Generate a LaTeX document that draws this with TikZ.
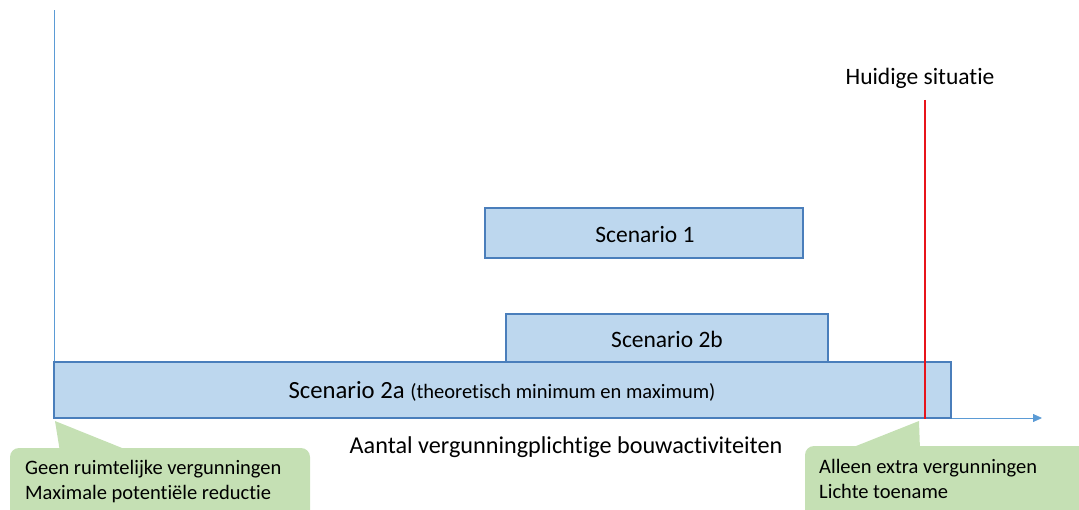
\documentclass[tikz,border=0pt]{standalone}
\usepackage{fontspec}
\setmainfont{Carlito}[Ligatures=NoCommon]
\usetikzlibrary{arrows.meta}
\definecolor{boxfill}{HTML}{BDD7EE}
\definecolor{boxline}{HTML}{4A7EBB}
\definecolor{axisc}{HTML}{5B9BD5}
\definecolor{callg}{HTML}{C5E0B4}
\definecolor{redl}{HTML}{E8141B}
\tikzset{
  scen/.style={draw=boxline, line width=1.3pt, fill=boxfill, inner sep=0pt},
  lbl/.style={font=\fontsize{23.5}{27}\selectfont, inner sep=0pt},
  calltext/.style={font=\fontsize{20.5}{25}\selectfont, align=left, anchor=north west, inner sep=0pt},
  callbox/.style={fill=callg, draw=none, rounded corners=9pt},
}
\begin{document}
\begin{tikzpicture}[x=1pt,y=-1pt]
\useasboundingbox (0,0) rectangle (1079,510);
\clip (0,0) rectangle (1079,510);
% axes
\coordinate (o) at (54,418);
\coordinate (ytop) at (54,10);
\coordinate (xend) at (1042,418);
\draw[axisc, line width=0.8pt] (o) -- (ytop);
\draw[axisc, line width=0.8pt, -{Triangle[length=9pt,width=8pt]}] (o) -- (xend);
% scenario boxes
\draw[scen] (54,362) rectangle (951,418);
\draw[scen] (506,314) rectangle (828,362);
\draw[scen] (485,208) rectangle (803,258);
\node[lbl] (s1) at (645,235) {Scenario 1};
\node[lbl] (s2b) at (667,339) {Scenario 2b};
\node[lbl, font=\fontsize{24.7}{28}\selectfont] (s2a) at (502,391) {Scenario 2a {\fontsize{20.5}{23}\selectfont (theoretisch minimum en maximum)}};
% current situation
\coordinate (rtop) at (925,100);
\coordinate (rbot) at (925,419);
\draw[redl, line width=2.2pt] (rtop) -- (rbot);
\node[lbl] (hs) at (920,78) {Huidige situatie};
% x axis label
\node[lbl, font=\fontsize{24.2}{28}\selectfont] (xl) at (566,447) {Aantal vergunningplichtige bouwactiviteiten};
% left callout
\coordinate (ltip) at (55,421);
\fill[callg] (ltip) -- (60,452) -- (132,452) -- cycle;
\fill[callbox] (10,448) rectangle (310,525);
\node[calltext] (lc) at (25,460) {Geen ruimtelijke vergunningen\\Maximale potentiële reductie};
% right callout
\coordinate (rtip) at (919,421);
\fill[callg] (rtip) -- (846,450) -- (920,450) -- cycle;
\fill[callbox] (805,446) rectangle (1095,525);
\node[calltext] (rc) at (819,459) {Alleen extra vergunningen\\Lichte toename};
\end{tikzpicture}
\end{document}
